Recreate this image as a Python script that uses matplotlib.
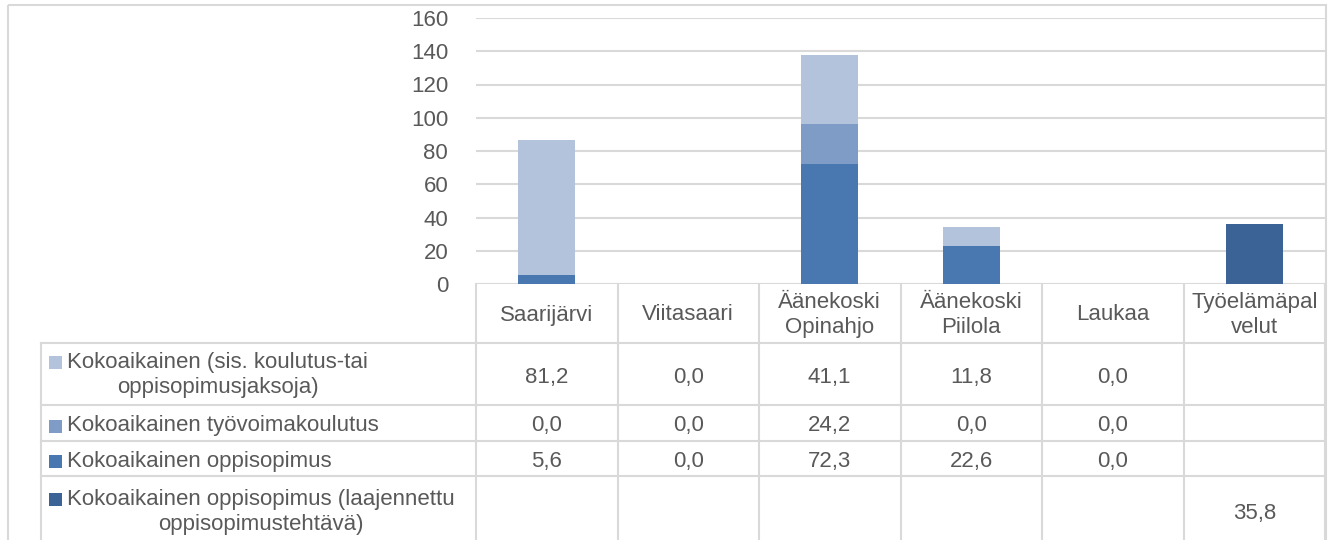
import numpy as np
import matplotlib.pyplot as plt
from matplotlib.patches import Rectangle

plt.rcParams['font.family'] = ['Liberation Sans', 'DejaVu Sans']

# data
categories = ['Saarijärvi', 'Viitasaari', 'Äänekoski\nOpinahjo', 'Äänekoski\nPiilola',
              'Laukaa', 'Työelämäpal\nvelut']
kokoaikainen = [81.2, 0.0, 41.1, 11.8, 0.0, None]
tyovoimakoulutus = [0.0, 0.0, 24.2, 0.0, 0.0, None]
oppisopimus = [5.6, 0.0, 72.3, 22.6, 0.0, None]
laajennettu = [None, None, None, None, None, 35.8]

series_names = ['Kokoaikainen (sis. koulutus-tai\noppisopimusjaksoja)',
                'Kokoaikainen työvoimakoulutus',
                'Kokoaikainen oppisopimus',
                'Kokoaikainen oppisopimus (laajennettu\noppisopimustehtävä)']
series = [kokoaikainen, tyovoimakoulutus, oppisopimus, laajennettu]
colors = ['#b4c3dc', '#7f9cc7', '#4878af', '#3b6396']

W, H = 1333, 540
grid_c = '#d9d9d9'
text_c = '#595959'
fs = 16

fig = plt.figure(figsize=(W / 100, H / 100), dpi=100)

# overlay in pixel coordinates for the frame and the data table
tab = fig.add_axes([0, 0, 1, 1])
tab.set_xlim(0, W)
tab.set_ylim(H, 0)
tab.axis('off')

# plot area / table geometry (pixels)
x0, x1 = 476, 1325
y_axis = 284
col_edges = np.linspace(x0, x1, len(categories) + 1)
row_edges = [343, 405, 441, 476]
row_centers = [377, 426, 461, 514]
table_left = 41

# outer chart border
tab.add_patch(Rectangle((8, 5), 1318, 560, fill=False, ec=grid_c, lw=1.5))

# table lines
for x in col_edges:
    tab.plot([x, x], [y_axis, H], color=grid_c, lw=1.5)
tab.plot([table_left, table_left], [row_edges[0], H], color=grid_c, lw=1.5)
for y in row_edges:
    tab.plot([table_left, x1], [y, y], color=grid_c, lw=1.5)

centers = (col_edges[:-1] + col_edges[1:]) / 2
for cx, lab in zip(centers, categories):
    tab.text(cx, 315, lab, ha='center', va='center', fontsize=fs, color=text_c,
             linespacing=1.25)

for name, vals, c, cy in zip(series_names, series, colors, row_centers):
    two = '\n' in name
    ty = cy - 2 if two else cy
    tab.add_patch(Rectangle((49, ty - 6.5 - (13 if two else 0)), 13, 13,
                            color=c, lw=0))
    tab.text(67, ty, name, ha='left', va='center', multialignment='center',
             fontsize=fs, color=text_c, linespacing=1.25)
    for cx, v in zip(centers, vals):
        if v is None:
            continue
        tab.text(cx, cy, f'{v:.1f}'.replace('.', ','),
                 ha='center', va='center', fontsize=fs, color=text_c)

# bar chart
ax = fig.add_axes([x0 / W, 1 - y_axis / H, (x1 - x0) / W, (y_axis - 18) / H])
ax.patch.set_alpha(0)
x = np.arange(len(categories))
bottom = np.zeros(len(categories))
for vals, c in [(oppisopimus, colors[2]), (tyovoimakoulutus, colors[1]),
                (kokoaikainen, colors[0]), (laajennettu, colors[3])]:
    v = np.array([0.0 if a is None else a for a in vals])
    ax.bar(x, v, width=0.4, bottom=bottom, color=c, zorder=3)
    bottom += v

ax.set_xlim(-0.5, len(categories) - 0.5)
ax.set_ylim(0, 160)
ax.set_yticks(range(0, 161, 20))
ax.set_xticks([])
ax.yaxis.grid(True, color=grid_c, lw=1.5)
ax.tick_params(axis='y', length=0, pad=20, labelsize=fs, labelcolor=text_c)
for s in ax.spines.values():
    s.set_visible(False)

fig.savefig('out.png', dpi=100)
